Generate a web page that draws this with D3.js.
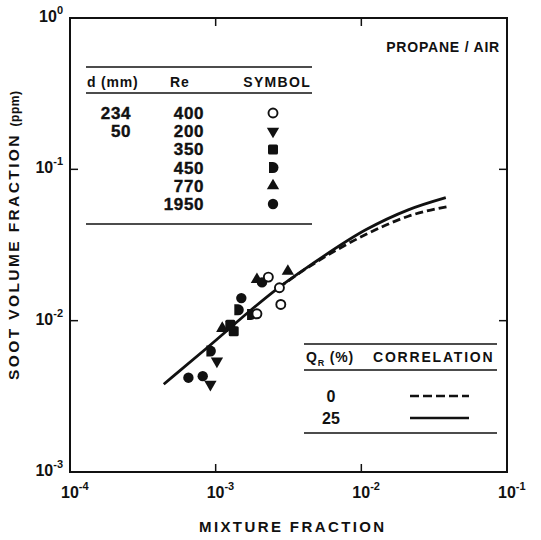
<!DOCTYPE html>
<html>
<head>
<meta charset="utf-8">
<script src="https://cdn.jsdelivr.net/npm/d3@7"></script>
<style>
  body { margin: 0; background: #fff; }
  text { font-family: "Liberation Sans", Arial, sans-serif; font-weight: bold; fill: #111; }
</style>
</head>
<body>
<svg id="chart" width="541" height="540"></svg>
<script>
// axis decades
const xTicks = [1e-4, 1e-3, 1e-2, 1e-1]
const yTicks = [1e-3, 1e-2, 1e-1, 1]
const xTickExp = ["-4", "-3", "-2", "-1"]
const yTickExp = ["-3", "-2", "-1", "0"]

// measured points [mixture fraction, soot volume fraction ppm]
const re400 = [[2.30e-3, 1.94e-2], [2.74e-3, 1.65e-2], [2.80e-3, 1.28e-2], [1.92e-3, 1.11e-2]]
const re200 = [[1.02e-3, 5.4e-3], [9.2e-4, 3.8e-3]]
const re350 = [[1.33e-3, 8.5e-3], [1.26e-3, 9.4e-3]]
const re450 = [[1.75e-3, 1.10e-2], [1.43e-3, 1.18e-2], [9.2e-4, 6.3e-3]]
const re770 = [[1.92e-3, 1.87e-2], [3.13e-3, 2.12e-2], [1.11e-3, 8.9e-3]]
const re1950 = [[1.50e-3, 1.41e-2], [6.5e-4, 4.2e-3], [8.15e-4, 4.3e-3], [2.08e-3, 1.79e-2]]

// correlation curves
const solidCurve = [[4.4e-4, 3.8e-3], [8.7e-4, 6.6e-3], [2.7e-3, 1.65e-2], [4.4e-3, 2.3e-2], [1.08e-2, 4.0e-2], [2.1e-2, 5.4e-2], [3.8e-2, 6.5e-2]]
const dashedCurve = [[2.7e-3, 1.65e-2], [4.4e-3, 2.28e-2], [1.08e-2, 3.72e-2], [2.1e-2, 4.9e-2], [4.0e-2, 5.7e-2]]

// legend tables
const legendD = ["234", "50", "", "", "", ""]
const legendRe = ["400", "200", "350", "450", "770", "1950"]
const legendSym = ["open", "down", "square", "half", "up", "dot"]
const corrQ = ["0", "25"]
const corrDash = [true, false]

const svg = d3.select("#chart")
const plotL = 70, plotR = 507, plotT = 18, plotB = 472

const x = d3.scaleLog().domain([1e-4, 1e-1]).range([plotL, plotR])
const y = d3.scaleLog().domain([1e-3, 1]).range([plotB, plotT])

// frame
svg.append("rect")
    .attr("x", plotL).attr("y", plotT)
    .attr("width", plotR - plotL).attr("height", plotB - plotT)
    .attr("fill", "none").attr("stroke", "#111").attr("stroke-width", 2)

// inward ticks
const innerX = [1e-3, 1e-2]
innerX.forEach(v => {
    svg.append("line").attr("x1", x(v)).attr("x2", x(v)).attr("y1", plotB).attr("y2", plotB - 8)
        .attr("stroke", "#111").attr("stroke-width", 1.5)
    svg.append("line").attr("x1", x(v)).attr("x2", x(v)).attr("y1", plotT).attr("y2", plotT + 8)
        .attr("stroke", "#111").attr("stroke-width", 1.5)
})
const innerY = [1e-2, 1e-1]
innerY.forEach(v => {
    svg.append("line").attr("x1", plotL).attr("x2", plotL + 8).attr("y1", y(v)).attr("y2", y(v))
        .attr("stroke", "#111").attr("stroke-width", 1.5)
    svg.append("line").attr("x1", plotR).attr("x2", plotR - 8).attr("y1", y(v)).attr("y2", y(v))
        .attr("stroke", "#111").attr("stroke-width", 1.5)
})

// tick labels
xTicks.forEach((v, i) => {
    const t = svg.append("text").attr("x", x(v) - 9).attr("y", plotB + 26)
    t.append("tspan").attr("font-size", 16).text("10")
    t.append("tspan").attr("font-size", 11).attr("dy", -8).text(xTickExp[i])
})
yTicks.forEach((v, i) => {
    const t = svg.append("text").attr("x", plotL - 7).attr("y", y(v) + 4).attr("text-anchor", "end")
    t.append("tspan").attr("font-size", 16).text("10")
    t.append("tspan").attr("font-size", 11).attr("dy", -8).text(yTickExp[i])
})

// axis titles
svg.append("text")
    .attr("x", 199).attr("y", 532)
    .attr("font-size", 15).attr("letter-spacing", 2.4)
    .text("MIXTURE FRACTION")

const yt = svg.append("text")
    .attr("transform", "translate(19,380) rotate(-90)")
    .attr("font-size", 15.5).attr("letter-spacing", 2.4)
yt.append("tspan").text("SOOT VOLUME FRACTION ")
yt.append("tspan").attr("font-size", 12).attr("letter-spacing", 0.5).text("(ppm)")

svg.append("text")
    .attr("x", 500).attr("y", 52).attr("text-anchor", "end")
    .attr("font-size", 14).attr("letter-spacing", 0.8)
    .text("PROPANE / AIR")

// curves
const line = d3.line().x(d => x(d[0])).y(d => y(d[1])).curve(d3.curveMonotoneX)
svg.append("path").attr("d", line(solidCurve))
    .attr("fill", "none").attr("stroke", "#111").attr("stroke-width", 2.8)
svg.append("path").attr("d", line(dashedCurve))
    .attr("fill", "none").attr("stroke", "#111").attr("stroke-width", 2.8)
    .attr("stroke-dasharray", "8,4")

// symbols
const halfDisk = "M-4,-5.5L0,-5.5A5.5,5.5,0,0,1,0,5.5L-4,5.5Z"
function drawSymbol(g, kind) {
    if (kind === "open") {
        g.append("circle").attr("r", 4.5).attr("fill", "#fff").attr("stroke", "#111").attr("stroke-width", 1.9)
    } else if (kind === "dot") {
        g.append("circle").attr("r", 5.2).attr("fill", "#111")
    } else if (kind === "square") {
        g.append("rect").attr("x", -5).attr("y", -5).attr("width", 10).attr("height", 10).attr("rx", 1.5).attr("fill", "#111")
    } else if (kind === "up") {
        g.append("path").attr("d", d3.symbol(d3.symbolTriangle, 66)()).attr("fill", "#111")
    } else if (kind === "down") {
        g.append("path").attr("d", d3.symbol(d3.symbolTriangle, 66)()).attr("transform", "rotate(180)").attr("fill", "#111")
    } else if (kind === "half") {
        g.append("path").attr("d", halfDisk).attr("fill", "#111")
    }
}

const series = [[re200, "down"], [re350, "square"], [re450, "half"], [re770, "up"], [re1950, "dot"], [re400, "open"]]
series.forEach(([data, kind]) => {
    svg.selectAll(null)
        .data(data)
        .join("g")
            .attr("transform", d => `translate(${x(d[0])},${y(d[1])})`)
            .each(function () { drawSymbol(d3.select(this), kind) })
})

// legend: d / Re / symbol
const hl = (x1, x2, yy) => svg.append("line").attr("x1", x1).attr("x2", x2).attr("y1", yy).attr("y2", yy)
    .attr("stroke", "#111").attr("stroke-width", 1.5)
hl(86, 312, 67)
hl(86, 312, 93)
hl(86, 312, 224)
svg.append("text").attr("x", 87).attr("y", 87).attr("font-size", 14).attr("letter-spacing", 0.8).text("d (mm)")
svg.append("text").attr("x", 170).attr("y", 87).attr("font-size", 14).attr("letter-spacing", 0.8).text("Re")
svg.append("text").attr("x", 311).attr("y", 87).attr("font-size", 14).attr("letter-spacing", 1.3)
    .attr("text-anchor", "end").text("SYMBOL")

legendRe.forEach((re, i) => {
    const yy = 113 + i * 18.2
    svg.append("text").attr("x", 131).attr("y", yy + 6).attr("text-anchor", "end")
        .attr("font-size", 17).attr("letter-spacing", 0.6).attr("font-weight", "normal")
        .attr("stroke", "#111").attr("stroke-width", 0.4)
        .text(legendD[i])
    svg.append("text").attr("x", 204).attr("y", yy + 6).attr("text-anchor", "end")
        .attr("font-size", 17).attr("letter-spacing", 0.6).attr("font-weight", "normal")
        .attr("stroke", "#111").attr("stroke-width", 0.4)
        .text(re)
    const g = svg.append("g").attr("transform", `translate(273,${yy})`)
    drawSymbol(g, legendSym[i])
})

// legend: correlation
hl(304, 497, 344)
hl(304, 497, 370)
hl(304, 497, 433)
const qh = svg.append("text").attr("x", 306).attr("y", 362).attr("font-size", 14).attr("letter-spacing", 0.8)
qh.append("tspan").text("Q")
qh.append("tspan").attr("font-size", 9).attr("dy", 4).text("R")
qh.append("tspan").attr("dy", -4).text(" (%)")
svg.append("text").attr("x", 373).attr("y", 362).attr("font-size", 14).attr("letter-spacing", 1.8).text("CORRELATION")

corrQ.forEach((q, i) => {
    const yy = 396 + i * 22
    svg.append("text").attr("x", 331).attr("y", yy + 6).attr("text-anchor", "middle")
        .attr("font-size", 16).text(q)
    svg.append("line").attr("x1", 410).attr("x2", 469).attr("y1", yy).attr("y2", yy)
        .attr("stroke", "#111").attr("stroke-width", 2.6)
        .attr("stroke-dasharray", corrDash[i] ? "9,4" : null)
})
</script>
</body>
</html>
